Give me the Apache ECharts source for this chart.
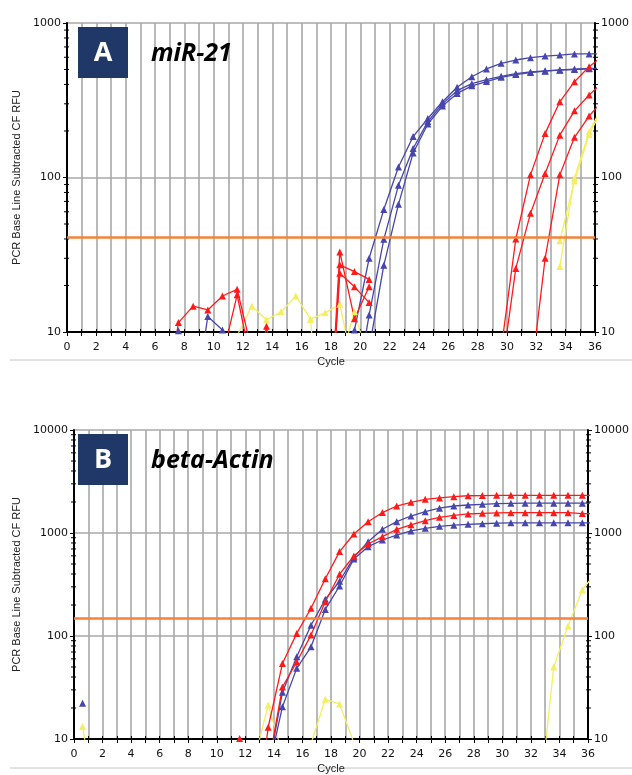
<!DOCTYPE html>
<html>
<head>
<meta charset="utf-8">
<title>miR-21 / beta-Actin amplification</title>
<script src="https://cdn.jsdelivr.net/npm/echarts@6/dist/echarts.min.js"></script>
<style>
html, body { margin: 0; padding: 0; background: #fff; }
#chart { width: 632px; height: 775px; }
</style>
</head>
<body>
<div id="chart"></div>
<script>
var n = null;

// x position of each reading (one per cycle)
var cycles = [0.6, 1.6, 2.6, 3.6, 4.6, 5.6, 6.6, 7.6, 8.6, 9.6, 10.6, 11.6, 12.6, 13.6, 14.6, 15.6, 16.6, 17.6, 18.6,
  19.6, 20.6, 21.6, 22.6, 23.6, 24.6, 25.6, 26.6, 27.6, 28.6, 29.6, 30.6, 31.6, 32.6, 33.6, 34.6, 35.6, 36.6];

// panel A : miR-21 (RFU)
var mirRed1 = [n, n, n, n, n, n, 2.9, 11.5, 14.7, 13.9, 17.1, 18.9, 7.6, n, n, n, n, 0.7, 33, 12.2, 19.6,
  n, n, n, n, n, n, n, n, 7.7, 40, 104, 193, 309, 417, 521, 620];
var mirRed2 = [n, n, n, n, n, n, n, n, n, n, 6.9, 17.4, 6, n, n, n, n, 0.7, 27.2, 24.6, 21.9,
  n, n, n, n, n, n, n, n, 5.3, 25.8, 58.6, 106, 188, 270, 342, 420];
var mirRed3 = [n, n, n, n, n, n, n, n, n, n, n, n, 3, 10.9, 3, n, n, 0.7, 24, 19.6, 15.5,
  n, n, n, n, n, n, n, n, n, n, 4.8, 30, 104, 182, 250, 320];
var mirBlue1 = [n, n, n, n, n, n, n, n, 3, 12.6, 10.3, 3, n, n, n, n, n, n, n, 10.3, 30,
  62, 117, 184, 241, 309, 384, 449, 504, 548, 576, 596, 611, 620, 631, 631, 633];
var mirBlue2 = [n, n, n, n, n, n, 3, 10.2, 3, n, n, n, n, n, n, n, n, n, n, 3.6, 12.9,
  39.8, 89, 154, 230, 300, 365, 405, 430, 452, 470, 482, 490, 497, 503, 508, 510];
var mirBlue3 = [n, n, n, n, n, n, n, n, n, n, n, n, n, n, n, n, n, n, n, 2, 7.8,
  27, 67, 144, 222, 290, 350, 392, 418, 445, 464, 478, 488, 495, 500, 505, 507];
var mirYellow1 = [n, n, n, n, n, n, n, n, n, n, n, 9.5, 14.7, 12, 13.5, 17.1, 12.1, 13.3, 15.1, 5.4, n,
  n, n, n, n, n, n, n, n, n, n, n, n, 26.5, 99, 198, 300];
var mirYellow2 = [n, n, n, n, n, n, n, n, n, n, n, n, n, n, n, n, 12.1, 1, 6.3, 13.5, 6.4,
  n, n, n, n, n, n, n, n, n, n, n, n, 39, 95, 190, 290];
var mirThreshold = 40.8;

// panel B : beta-Actin (RFU)
var actRed1 = [n, n, n, n, n, n, n, n, n, n, n, n, 1, 13, 54, 106, 186, 360, 660, 978, 1288,
  1580, 1828, 1986, 2124, 2190, 2250, 2300, 2310, 2320, 2320, 2320, 2320, 2320, 2320, 2320, 2320];
var actRed2 = [n, n, n, n, n, n, n, n, n, n, 3, 10.1, 3, 5.3, 32, 56, 102, 215, 398, 598, 782,
  921, 1087, 1200, 1318, 1420, 1480, 1530, 1552, 1565, 1575, 1575, 1575, 1575, 1575, 1545, 1540];
var actBlue1 = [22.2, n, n, n, n, n, n, n, n, n, n, n, n, 5, 28.5, 63, 127, 227, 340, 580, 824,
  1087, 1288, 1462, 1612, 1741, 1828, 1870, 1900, 1930, 1940, 1950, 1950, 1950, 1950, 1950, 1950];
var actBlue2 = [n, n, n, n, n, n, n, n, n, n, n, n, n, 4.9, 20.6, 48.5, 78.6, 181, 306, 560, 736,
  855, 955, 1047, 1110, 1160, 1190, 1215, 1230, 1245, 1255, 1255, 1255, 1255, 1255, 1255, 1255];
var actYellow1 = [13.2, 2, n, n, n, n, n, n, n, n, n, n, 6, 21.4, 7.2, n, n, n, n, n, n,
  n, n, n, n, n, n, n, n, n, n, n, 2.5, 50, 125, 280, 420];
var actYellow2 = [n, n, n, n, n, n, n, n, n, n, n, n, n, n, n, n, 9, 24.3, 21.9, 9.2, n,
  n, n, n, n, n, n, n, n, n, n, n, n, n, n, n, n];
var actThreshold = 150;

// minor log ticks
var minorTicksA = [20, 30, 40, 50, 60, 70, 80, 90, 200, 300, 400, 500, 600, 700, 800, 900];
var minorTicksB = [20, 30, 40, 50, 60, 70, 80, 90, 200, 300, 400, 500, 600, 700, 800, 900,
  2000, 3000, 4000, 5000, 6000, 7000, 8000, 9000];

var RED = '#ff1a1a', BLUE = '#4646ac', YELLOW = '#f4ee62', ORANGE = '#f5823a';
var labelFont = { fontFamily: 'DejaVu Sans', fontSize: 11, color: '#111' };

function pts(vals) {
  return cycles.map(function (c, i) { return [c, vals[i]]; });
}

function curve(vals, color, g) {
  return {
    type: 'line', xAxisIndex: g, yAxisIndex: g * 2, data: pts(vals),
    symbol: 'triangle', symbolSize: 7, showAllSymbol: true,
    itemStyle: { color: color }, lineStyle: { color: color, width: 1.3 },
    z: 3, silent: true
  };
}

function thresholdLine(val, g) {
  return {
    type: 'line', xAxisIndex: g, yAxisIndex: g * 2, data: [], silent: true,
    markLine: {
      symbol: 'none', silent: true, label: { show: false },
      lineStyle: { color: ORANGE, width: 2.5, type: 'solid' },
      data: [{ yAxis: val }]
    }, z: 2
  };
}

function minorTickSeries(vals, g) {
  return {
    type: 'custom', xAxisIndex: g, yAxisIndex: g * 2, silent: true, z: 4,
    data: vals.map(function (v) { return [0, v]; }),
    renderItem: function (params, api) {
      var l = api.coord([0, api.value(1)]);
      var r = api.coord([36, api.value(1)]);
      var st = { stroke: '#000', lineWidth: 1 };
      return { type: 'group', children: [
        { type: 'line', shape: { x1: l[0] - 3, y1: l[1], x2: l[0] + 2, y2: l[1] }, style: st },
        { type: 'line', shape: { x1: r[0] - 2, y1: r[1], x2: r[0] + 3, y2: r[1] }, style: st }
      ] };
    }
  };
}

function xAxisFor(g) {
  return {
    type: 'value', gridIndex: g, min: 0, max: 36, interval: 1,
    name: 'Cycle', nameLocation: 'middle', nameGap: 24,
    nameTextStyle: { fontFamily: 'Liberation Sans', fontSize: 11, color: '#222' },
    axisLine: { onZero: false, lineStyle: { color: '#000', width: 2 } },
    axisTick: { length: 4, lineStyle: { color: '#000' } },
    axisLabel: Object.assign({ margin: 10, formatter: function (v) { return v % 2 === 0 ? String(v) : ''; } }, labelFont),
    splitLine: { show: true, lineStyle: { color: '#a8a8a8', width: 1.6 } }
  };
}

// second x axis on each grid only for the inner half of the cycle ticks
function xTickInside(g) {
  return {
    type: 'value', gridIndex: g, min: 0, max: 36, interval: 1, position: 'bottom',
    axisLine: { show: false }, axisLabel: { show: false }, splitLine: { show: false },
    axisTick: { show: true, inside: true, length: 3, lineStyle: { color: '#000' } }
  };
}

function yAxisFor(g, max, side) {
  var left = side === 'left';
  return {
    type: 'log', logBase: 10, gridIndex: g, min: 10, max: max, position: side,
    name: left ? 'PCR Base Line Subtracted CF RFU' : '', nameLocation: 'middle', nameGap: 39,
    nameTextStyle: { fontFamily: 'Liberation Sans', fontSize: 11, color: '#222' },
    axisLine: { show: true, onZero: false, lineStyle: { color: '#000', width: 2 } },
    axisTick: { show: true, length: 4, lineStyle: { color: '#000' } },
    axisLabel: Object.assign({ margin: 6, formatter: function (v) { return String(Math.round(v)); } }, labelFont),
    splitLine: { show: left, lineStyle: { color: '#a8a8a8', width: 1.6 } }
  };
}

var chart = echarts.init(document.getElementById('chart'), null, { renderer: 'canvas' });

chart.setOption({
  animation: false,
  backgroundColor: '#fff',
  grid: [
    { left: 67, top: 23, width: 538, height: 309 },
    { left: 74, top: 430, width: 523, height: 309 }
  ],
  xAxis: [xAxisFor(0), xAxisFor(1), xTickInside(0), xTickInside(1)],
  yAxis: [yAxisFor(0, 1000, 'left'), yAxisFor(0, 1000, 'right'), yAxisFor(1, 10000, 'left'), yAxisFor(1, 10000, 'right')],
  series: [
    thresholdLine(mirThreshold, 0),
    curve(mirYellow1, YELLOW, 0), curve(mirYellow2, YELLOW, 0),
    curve(mirBlue1, BLUE, 0), curve(mirBlue2, BLUE, 0), curve(mirBlue3, BLUE, 0),
    curve(mirRed1, RED, 0), curve(mirRed2, RED, 0), curve(mirRed3, RED, 0),
    minorTickSeries(minorTicksA, 0),
    thresholdLine(actThreshold, 1),
    curve(actYellow1, YELLOW, 1), curve(actYellow2, YELLOW, 1),
    curve(actBlue1, BLUE, 1), curve(actBlue2, BLUE, 1),
    curve(actRed1, RED, 1), curve(actRed2, RED, 1),
    minorTickSeries(minorTicksB, 1)
  ],
  graphic: [
    { type: 'line', z: -1, shape: { x1: 10, y1: 360, x2: 632, y2: 360 }, style: { stroke: '#c4c4c4', lineWidth: 1 } },
    { type: 'line', z: -1, shape: { x1: 10, y1: 768, x2: 632, y2: 768 }, style: { stroke: '#c4c4c4', lineWidth: 1 } },
    { type: 'rect', shape: { x: 78, y: 27, width: 50, height: 51 }, style: { fill: '#1f3867' }, z: 10 },
    { type: 'text', x: 103, y: 53, z: 11, style: { text: 'A', fill: '#fff', font: 'bold 27px "Open Sans"', align: 'center', verticalAlign: 'middle' } },
    { type: 'text', x: 151, y: 54, z: 11, style: { text: 'miR-21', fill: '#000', font: 'italic bold 25px "Open Sans"', align: 'left', verticalAlign: 'middle' } },
    { type: 'rect', shape: { x: 78, y: 434, width: 50, height: 51 }, style: { fill: '#1f3867' }, z: 10 },
    { type: 'text', x: 103, y: 460, z: 11, style: { text: 'B', fill: '#fff', font: 'bold 27px "Open Sans"', align: 'center', verticalAlign: 'middle' } },
    { type: 'text', x: 151, y: 461, z: 11, style: { text: 'beta-Actin', fill: '#000', font: 'italic bold 25px "Open Sans"', align: 'left', verticalAlign: 'middle' } }
  ]
});
</script>
</body>
</html>
